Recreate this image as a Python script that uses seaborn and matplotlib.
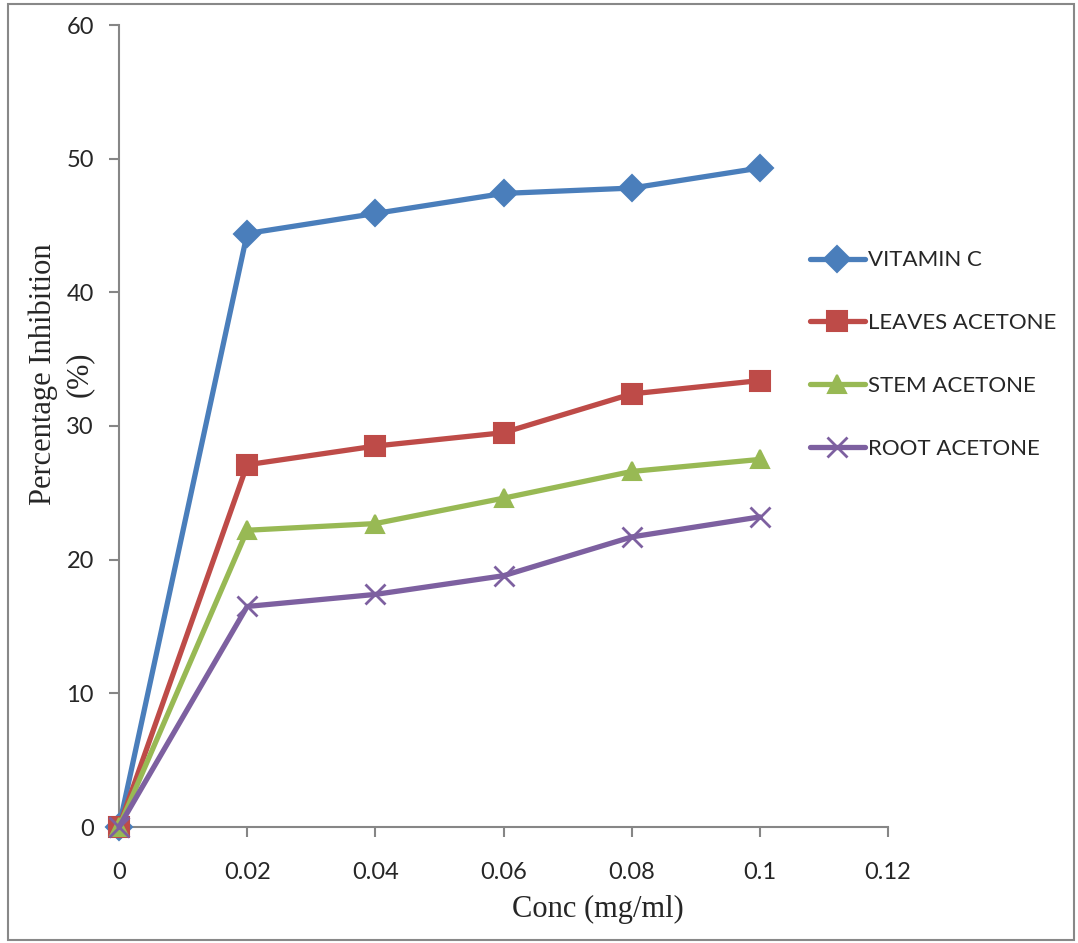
import matplotlib.pyplot as plt
import seaborn as sns
import pandas as pd
import matplotlib as mpl

sns.set_style("white")
plt.rcParams['font.family'] = ['Lato', 'DejaVu Sans']

# Data
conc = [0, 0.02, 0.04, 0.06, 0.08, 0.1]
vitamin_c = [0, 44.4, 45.9, 47.4, 47.8, 49.3]
leaves_acetone = [0, 27.1, 28.5, 29.5, 32.4, 33.4]
stem_acetone = [0, 22.2, 22.7, 24.6, 26.6, 27.5]
root_acetone = [0, 16.5, 17.4, 18.8, 21.7, 23.2]
series_names = ['VITAMIN C', 'LEAVES ACETONE', 'STEM ACETONE', 'ROOT ACETONE']
colors = ['#4A7EBB', '#BE4B48', '#98B954', '#7D60A0']
markers = ['D', 's', '^', 'x']
msizes = [13, 14, 13, 14]

frames = []
for name, vals in zip(series_names, [vitamin_c, leaves_acetone, stem_acetone, root_acetone]):
    frames.append(pd.DataFrame({'Conc': conc, 'Inhibition': vals, 'Series': name}))
df = pd.concat(frames, ignore_index=True)

fig = plt.figure(figsize=(10.78, 9.43), dpi=100)
ax = fig.add_axes([119 / 1078, 1 - 827 / 943, (888 - 119) / 1078, (827 - 25) / 943])

# outer border of the chart area
fig.patches.append(mpl.patches.Rectangle((8 / 1078, 3 / 943), 1066 / 1078, 936 / 943,
                                         transform=fig.transFigure, fill=False,
                                         edgecolor='#888888', linewidth=1.5))

for i, name in enumerate(series_names):
    sub = df[df['Series'] == name]
    sns.lineplot(data=sub, x='Conc', y='Inhibition', ax=ax, color=colors[i],
                 marker=markers[i], markersize=msizes[i], linewidth=3.8,
                 markeredgecolor=colors[i], markeredgewidth=1.5 if markers[i] != 'x' else 2,
                 label=name, clip_on=False, zorder=3)

ax.set_xlim(0, 0.12)
ax.set_ylim(0, 60)
ax.set_xticks([0, 0.02, 0.04, 0.06, 0.08, 0.1, 0.12])
ax.set_xticklabels(['0', '0.02', '0.04', '0.06', '0.08', '0.1', '0.12'])
ax.set_yticks(range(0, 61, 10))

for s in ['top', 'right']:
    ax.spines[s].set_visible(False)
for s in ['left', 'bottom']:
    ax.spines[s].set_color('#868686')
    ax.spines[s].set_linewidth(1.5)

ax.tick_params(axis='both', direction='out', length=7, width=1.5, color='#868686',
               labelsize=17, left=True, bottom=True)
ax.tick_params(axis='x', pad=18)
ax.tick_params(axis='y', pad=11)

ax.set_xlabel('Conc (mg/ml)', fontsize=22, family='Liberation Serif')
ax.xaxis.set_label_coords(0.623, -0.103)
ax.xaxis.label.set_va('center')
ax.set_ylabel('Percentage Inhibition\n(%)', fontsize=22, family='Liberation Serif',
              linespacing=1.3)
ax.yaxis.set_label_coords(-0.075, 0.565)
ax.yaxis.label.set_va('center')

ax.legend(loc='center left', bbox_to_anchor=(0.872, 0.589), frameon=False,
          fontsize=16, labelspacing=1.93, handlelength=2.5, handletextpad=0.15)

plt.savefig('out.png', dpi=100)
